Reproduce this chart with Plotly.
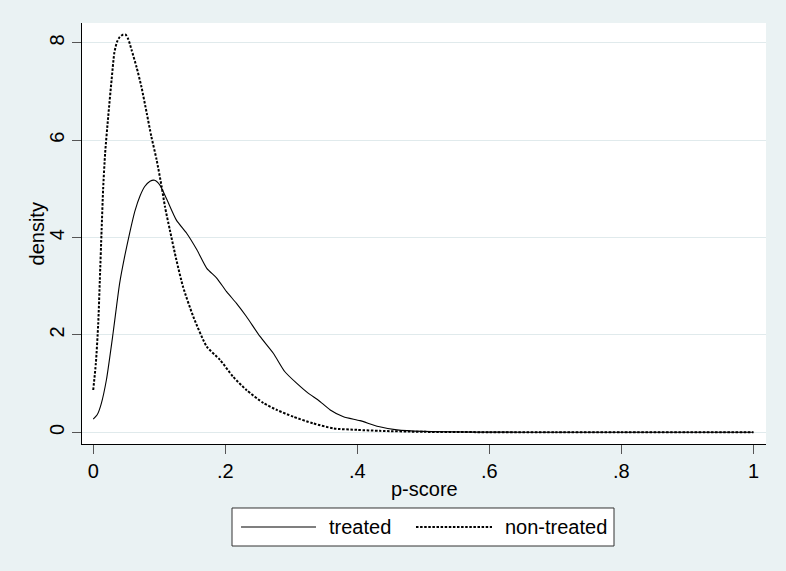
import plotly.graph_objects as go

# ---- data ----
treated_x = [0, 0.006, 0.012, 0.020, 0.030, 0.040, 0.048, 0.0556, 0.063, 0.071, 0.078,
             0.086, 0.093, 0.101, 0.111, 0.126, 0.1415, 0.157, 0.172, 0.187, 0.202,
             0.217, 0.232, 0.2526, 0.273, 0.290, 0.308, 0.326, 0.341, 0.359, 0.379,
             0.404, 0.432, 0.46, 0.50, 0.60, 0.70, 0.80, 0.90, 1.0]
treated_y = [0.27, 0.36, 0.58, 1.08, 2.03, 3.06, 3.64, 4.12, 4.54, 4.86, 5.05,
             5.16, 5.18, 5.08, 4.80, 4.36, 4.09, 3.75, 3.37, 3.17, 2.89,
             2.65, 2.38, 1.97, 1.62, 1.25, 1.01, 0.80, 0.66, 0.46, 0.32,
             0.24, 0.12, 0.05, 0.02, 0.005, 0.002, 0.0, 0.0, 0.0]

nontreated_x = [0, 0.004, 0.0076, 0.010, 0.0127, 0.015, 0.018, 0.0227, 0.0278, 0.032,
                0.036, 0.040, 0.045, 0.049, 0.053, 0.058, 0.0657, 0.073, 0.081, 0.088,
                0.096, 0.1036, 0.1086, 0.116, 0.126, 0.136, 0.1515, 0.172, 0.192, 0.212,
                0.232, 0.258, 0.278, 0.303, 0.333, 0.364, 0.40, 0.434, 0.50, 0.60,
                0.70, 0.80, 0.90, 1.0]
nontreated_y = [0.87, 1.42, 2.24, 3.13, 4.16, 5.0, 5.73, 6.49, 7.24, 7.80,
                8.02, 8.12, 8.17, 8.17, 8.08, 7.86, 7.50, 7.10, 6.56, 6.08,
                5.60, 5.05, 4.64, 4.16, 3.54, 2.99, 2.38, 1.76, 1.49, 1.14,
                0.87, 0.60, 0.46, 0.32, 0.185, 0.08, 0.05, 0.03, 0.01, 0.003,
                0.001, 0.0, 0.0, 0.0]

x_ticks = [0, 0.2, 0.4, 0.6, 0.8, 1.0]
x_labels = ["0", ".2", ".4", ".6", ".8", "1"]
y_ticks = [0, 2, 4, 6, 8]
y_labels = ["0", "2", "4", "6", "8"]
series_names = ["treated", "non-treated"]

FONT = "Liberation Sans, Arial, Helvetica, sans-serif"
FS = 20
BG = "#EAF2F3"
DOT = "2.5px,1.6px"

fig = go.Figure()
fig.add_trace(go.Scatter(x=treated_x, y=treated_y, mode="lines", name=series_names[0],
                         line=dict(color="black", width=1.1, shape="spline", smoothing=0.6),
                         showlegend=False))
fig.add_trace(go.Scatter(x=nontreated_x, y=nontreated_y, mode="lines", name=series_names[1],
                         line=dict(color="black", width=2, dash=DOT, shape="spline", smoothing=0.6),
                         showlegend=False))

# custom legend box (Stata style)
fig.add_shape(type="rect", xref="paper", yref="paper", x0=0.2193, x1=0.7778, y0=-0.2423, y1=-0.1520,
              line=dict(color="#333333", width=1), fillcolor="white", layer="above")
fig.add_shape(type="line", xref="paper", yref="paper", x0=0.2325, x1=0.3421, y0=-0.1971, y1=-0.1971,
              line=dict(color="black", width=1.1))
fig.add_shape(type="line", xref="paper", yref="paper", x0=0.4883, x1=0.5994, y0=-0.1971, y1=-0.1971,
              line=dict(color="black", width=2, dash=DOT))
fig.add_annotation(xref="paper", yref="paper", x=0.3582, y=-0.1971, text=series_names[0],
                   showarrow=False, xanchor="left", yanchor="middle",
                   font=dict(family=FONT, size=FS, color="black"))
fig.add_annotation(xref="paper", yref="paper", x=0.6155, y=-0.1971, text=series_names[1],
                   showarrow=False, xanchor="left", yanchor="middle",
                   font=dict(family=FONT, size=FS, color="black"))
# axis titles
fig.add_annotation(xref="paper", yref="paper", x=-0.0658, y=0.5, text="density", textangle=-90,
                   showarrow=False, xanchor="center", yanchor="middle",
                   font=dict(family=FONT, size=FS, color="black"))
fig.add_annotation(xref="paper", yref="paper", x=0.5, y=-0.1069, text="p-score",
                   showarrow=False, xanchor="center", yanchor="middle",
                   font=dict(family=FONT, size=FS, color="black"))

fig.update_layout(
    width=786, height=571,
    margin=dict(l=82, r=20, t=23, b=127),
    paper_bgcolor=BG, plot_bgcolor="white",
    font=dict(family=FONT, size=FS, color="black"),
)
fig.update_xaxes(range=[-0.017, 1.019], tickvals=x_ticks, ticktext=x_labels,
                 ticks="outside", ticklen=9, tickcolor="#555555", tickwidth=1,
                 showline=True, linecolor="black", linewidth=1, showgrid=False, zeroline=False,
                 tickfont=dict(size=FS))
fig.update_yaxes(range=[-0.24, 8.41], tickvals=y_ticks, ticktext=y_labels, tickangle=-90,
                 ticks="outside", ticklen=9, tickcolor="#555555", tickwidth=1,
                 showline=True, linecolor="black", linewidth=1,
                 showgrid=True, gridcolor="#E0EAEC", gridwidth=1, zeroline=False,
                 tickfont=dict(size=FS))

fig.write_html("out.html")
